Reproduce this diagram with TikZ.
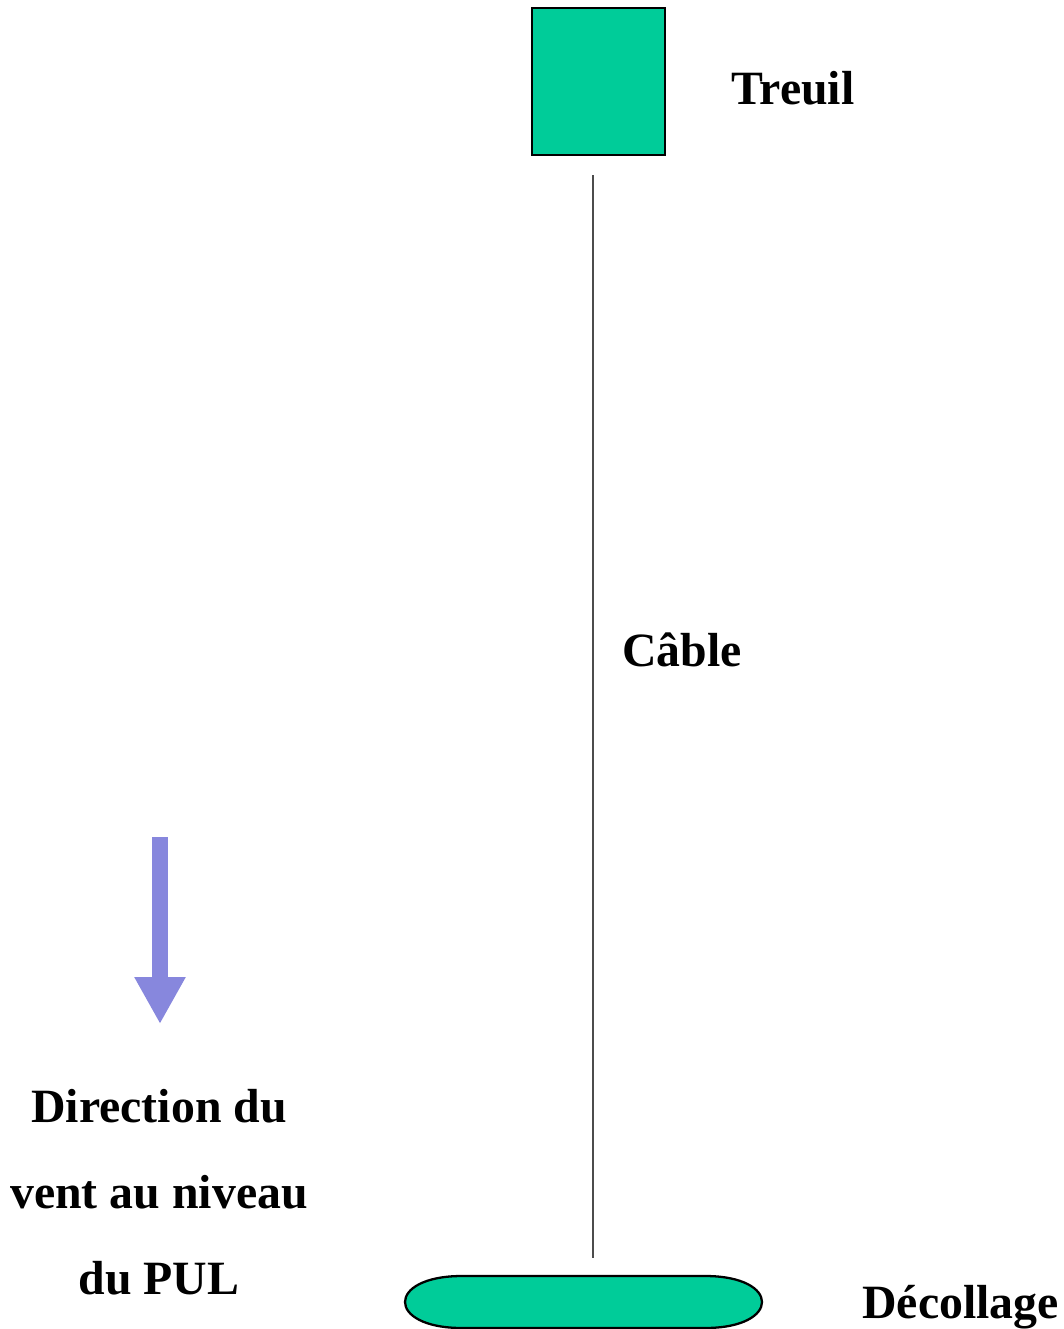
\documentclass[tikz,border=0pt]{standalone}
\usepackage{fontspec}
\setmainfont{Liberation Serif}
\usetikzlibrary{arrows.meta}

\begin{document}
\begin{tikzpicture}[x=0.02cm,y=-0.02cm]
	\tikzstyle{lbl}=[font=\bfseries\fontsize{27.2}{32}\selectfont,inner sep=0pt]
	\tikzstyle{greenpart}=[fill={rgb,255:red,0;green,204;blue,153},draw=black,line width=1.3pt]
	\useasboundingbox (0,0) rectangle (1064,1329);
	% treuil en haut
	\node (winch) [greenpart, minimum width=2.66cm, minimum height=2.94cm, inner sep=0pt] at (598.5,81.5) {};
	\node (treuil) [lbl, anchor=base west] at (731,104) {Treuil};
	% point de decollage
	\node (takeoff) [minimum width=7.14cm, minimum height=1.04cm, inner sep=0pt] at (583.5,1302) {};
	\draw[greenpart] (462,1276) -- (705,1276) .. controls (781,1276) and (781,1328) .. (705,1328)
		-- (462,1328) .. controls (386,1328) and (386,1276) .. (462,1276) -- cycle;
	\node (decollage) [lbl, anchor=base west] at (862,1318) {Décollage};
	% cable
	\coordinate (cabletop) at (593,175);
	\coordinate (cablebot) at (593,1258);
	\draw[line width=0.8pt, black!70] (cabletop) -- (cablebot);
	\node (cablelbl) [lbl, anchor=base west] at (622,666) {Câble};
	% vent
	\coordinate (windtop) at (160,837);
	\coordinate (windtip) at (160,1024);
	\draw[-{Triangle[width=0.96cm,length=0.94cm]}, line width=0.32cm, color={rgb,255:red,135;green,135;blue,221}] (windtop) -- (windtip);
	\node (wind1) [lbl, anchor=base] at (159,1122) {Direction du};
	\node (wind2) [lbl, anchor=base] at (159,1208) {vent au niveau};
	\node (wind3) [lbl, anchor=base] at (159,1294) {du PUL};
\end{tikzpicture}
\end{document}
